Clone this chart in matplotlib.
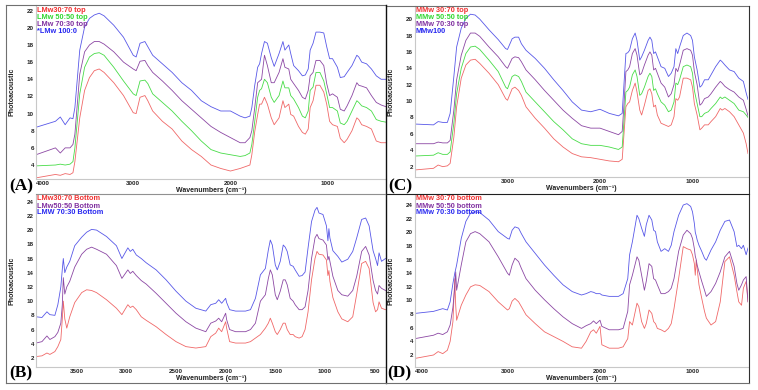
import numpy as np
import matplotlib
matplotlib.use("Agg")
import matplotlib.pyplot as plt
from matplotlib.lines import Line2D

plt.rcParams['font.family'] = ['Liberation Sans', 'DejaVu Sans']

W, H = 758, 390

# ---------------- Panel A: LMw top ----------------
wn_a = [4000, 3800, 3750, 3700, 3650, 3620, 3600, 3550, 3500, 3450,
        3400, 3350, 3300, 3200, 3100, 3000, 2970, 2930, 2880, 2850,
        2800, 2700, 2600, 2500, 2400, 2300, 2200, 2100, 2000, 1900,
        1850, 1800, 1780, 1750, 1720, 1700, 1680, 1650, 1620, 1580,
        1550, 1500, 1460, 1440, 1400, 1380, 1350, 1300, 1260, 1230,
        1200, 1180, 1150, 1120, 1080, 1040, 1010, 980, 950, 900,
        870, 830, 800, 750, 700, 680, 650, 600, 550, 500,
        450, 400]
a_30_70 = [2.5, 2.9, 2.8, 3.0, 2.9, 3.1, 4.4, 9.5, 12.7, 14.2,
           15.0, 15.2, 14.8, 13.6, 12.1, 10.1, 10.0, 11.9, 12.1, 11.5,
           10.3, 9.1, 8.2, 6.8, 5.8, 5.0, 4.0, 3.6, 3.3, 3.6,
           3.8, 4.0, 5.2, 7.9, 9.9, 11.1, 11.1, 11.9, 11.1, 9.5,
           8.7, 9.5, 11.5, 10.7, 11.1, 9.9, 9.7, 8.5, 7.8, 7.6,
           8.2, 10.7, 11.5, 13.3, 13.3, 12.5, 11.1, 9.1, 8.7, 8.5,
           7.1, 6.6, 7.0, 8.0, 9.5, 9.3, 8.7, 8.5, 8.2, 6.8,
           6.6, 6.6]
a_50_50 = [3.9, 4.0, 4.1, 4.0, 4.1, 4.4, 6.0, 12.3, 15.4, 16.6,
           17.0, 17.1, 16.8, 15.4, 13.8, 12.3, 12.1, 13.8, 13.9, 13.5,
           12.3, 11.3, 10.3, 9.1, 8.0, 6.8, 5.8, 5.4, 5.2, 5.0,
           5.1, 5.4, 6.4, 9.1, 11.9, 12.7, 12.9, 14.0, 13.6, 11.9,
           11.3, 12.1, 13.8, 13.0, 13.0, 12.1, 11.7, 10.7, 9.7, 9.5,
           10.3, 12.7, 13.1, 14.8, 14.8, 13.8, 12.3, 10.7, 10.7, 10.3,
           8.9, 8.7, 9.1, 10.3, 11.5, 11.3, 10.9, 10.7, 10.3, 9.3,
           9.1, 9.0]
a_70_30 = [5.2, 6.0, 5.4, 6.0, 6.0, 6.4, 7.6, 14.6, 17.2, 18.0,
           18.4, 18.4, 18.1, 17.2, 16.0, 15.2, 15.0, 16.1, 16.2, 15.6,
           14.8, 13.8, 12.7, 11.5, 10.5, 9.5, 8.5, 7.8, 7.2, 6.6,
           6.6, 7.2, 8.0, 10.7, 13.6, 13.8, 14.0, 16.8, 15.6, 13.6,
           13.6, 14.8, 16.4, 15.4, 15.2, 14.0, 13.5, 12.7, 11.9, 11.7,
           12.7, 14.4, 14.8, 16.2, 16.2, 15.6, 13.5, 12.1, 12.3, 11.9,
           10.5, 10.3, 10.9, 12.1, 13.6, 13.3, 13.2, 13.0, 12.1, 11.3,
           11.0, 10.8]
a_100 = [8.4, 9.1, 9.6, 8.7, 9.5, 9.4, 10.7, 17.4, 20.1, 21.1,
         21.5, 21.7, 21.4, 20.3, 18.9, 16.8, 16.6, 18.2, 18.4, 17.8,
         16.8, 15.8, 14.8, 13.6, 12.7, 11.5, 10.8, 10.3, 10.3, 9.7,
         9.5, 9.7, 10.7, 13.3, 15.4, 15.8, 17.0, 18.4, 18.2, 16.5,
         15.5, 17.0, 18.4, 17.4, 18.0, 17.0, 15.6, 15.0, 14.4, 14.5,
         15.2, 17.4, 18.2, 19.5, 19.5, 19.4, 17.8, 16.4, 16.4, 15.4,
         14.2, 14.3, 14.8, 15.6, 16.8, 16.6, 16.0, 15.8, 15.2, 14.4,
         14.0, 14.0]

# ---------------- Panel C: MMw top ----------------
wn_c = [4000, 3800, 3750, 3700, 3650, 3620, 3580, 3550, 3500, 3450,
        3400, 3350, 3300, 3200, 3100, 3020, 3000, 2950, 2920, 2880,
        2850, 2800, 2700, 2600, 2500, 2400, 2300, 2200, 2100, 2000,
        1900, 1800, 1760, 1740, 1720, 1700, 1680, 1650, 1620, 1600,
        1570, 1550, 1520, 1480, 1460, 1440, 1420, 1400, 1380, 1340,
        1300, 1260, 1230, 1200, 1180, 1160, 1140, 1100, 1060, 1020,
        1000, 980, 950, 920, 900, 870, 830, 800, 750, 700,
        680, 650, 600, 550, 500, 450, 420, 400]
c_30_70 = [1.6, 1.8, 2.2, 2.0, 2.1, 2.4, 5.6, 9.3, 12.8, 14.4,
           15.0, 15.1, 14.6, 13.4, 12.0, 10.3, 10.1, 11.5, 11.7, 11.3,
           10.7, 9.3, 7.9, 6.7, 5.4, 4.4, 3.6, 3.2, 3.1, 2.9,
           2.7, 2.6, 2.9, 6.1, 9.3, 9.7, 9.9, 11.3, 12.2, 11.1,
           8.9, 8.3, 9.5, 11.3, 11.5, 10.9, 9.3, 9.5, 8.3, 7.3,
           7.1, 6.9, 7.1, 8.1, 10.3, 10.1, 10.5, 12.8, 12.8, 12.6,
           11.7, 9.7, 8.3, 6.5, 6.7, 7.1, 7.1, 7.5, 8.1, 9.1,
           8.9, 9.1, 8.7, 8.1, 7.1, 6.1, 4.8, 3.6]
c_50_50 = [3.3, 3.4, 3.7, 3.5, 3.5, 3.8, 7.3, 10.9, 14.0, 15.8,
           16.6, 16.7, 16.3, 15.0, 13.6, 11.7, 11.5, 13.0, 13.2, 13.0,
           12.4, 11.1, 9.9, 8.7, 7.5, 6.5, 5.4, 4.8, 4.6, 4.6,
           4.4, 4.1, 4.4, 7.7, 11.1, 11.3, 11.7, 13.2, 13.8, 13.0,
           10.7, 10.9, 11.7, 13.0, 13.4, 13.0, 11.3, 11.5, 10.9, 9.9,
           9.5, 8.7, 8.9, 9.9, 12.2, 12.0, 12.6, 14.2, 14.4, 14.2,
           13.4, 11.3, 9.7, 8.1, 8.1, 8.5, 8.7, 9.1, 9.7, 10.5,
           10.3, 10.5, 10.1, 9.7, 8.9, 8.7, 8.3, 8.0]
c_70_30 = [4.8, 4.8, 5.0, 4.9, 4.9, 5.2, 8.9, 12.6, 15.6, 17.4,
           18.3, 18.3, 17.9, 16.6, 15.4, 14.2, 14.0, 15.2, 15.4, 15.3,
           14.8, 13.8, 12.6, 11.3, 10.1, 8.9, 7.9, 7.0, 6.7, 6.7,
           6.3, 5.9, 6.3, 9.7, 13.6, 13.8, 14.2, 15.8, 16.4, 15.6,
           13.2, 13.4, 14.4, 15.6, 16.0, 15.6, 13.8, 14.0, 13.4, 12.2,
           11.7, 10.5, 10.9, 12.0, 14.0, 13.6, 14.4, 16.2, 16.4, 16.2,
           15.6, 13.6, 12.0, 9.5, 9.7, 10.3, 10.5, 10.9, 11.7, 12.4,
           12.2, 11.8, 11.4, 11.1, 10.5, 10.1, 9.0, 8.2]
c_100 = [7.2, 7.1, 7.5, 7.4, 7.4, 8.5, 13.0, 16.6, 18.9, 20.1,
         20.6, 20.5, 20.0, 18.7, 17.5, 16.4, 16.3, 17.6, 17.8, 17.8,
         17.0, 16.2, 15.2, 14.0, 12.6, 11.3, 9.9, 8.9, 8.7, 9.0,
         8.5, 8.2, 8.5, 12.2, 15.8, 15.9, 16.2, 17.6, 18.3, 17.4,
         15.0, 15.4, 16.2, 17.4, 17.8, 17.4, 15.8, 16.0, 15.4, 14.2,
         14.0, 13.0, 13.4, 14.2, 16.4, 15.8, 16.6, 18.0, 18.3, 18.0,
         17.4, 15.4, 13.8, 11.7, 11.9, 12.6, 12.6, 13.2, 14.2, 15.0,
         14.8, 14.4, 13.8, 13.6, 12.8, 12.4, 11.0, 10.2]

# ---------------- Panel B: LMw bottom ----------------
wn_b = [3910, 3850, 3800, 3770, 3720, 3690, 3660, 3645, 3635, 3620,
        3600, 3570, 3520, 3450, 3400, 3350, 3300, 3200, 3100, 3045,
        2985, 2960, 2935, 2900, 2850, 2800,
        2700, 2600, 2500, 2400, 2300, 2200, 2150, 2100, 2070, 2040,
        2000, 1990, 1960, 1900, 1800, 1750, 1700, 1650, 1600, 1570,
        1550, 1530, 1500, 1480, 1450, 1420, 1400, 1380, 1350, 1320,
        1300, 1260, 1230,
        1200, 1170, 1135, 1100, 1080, 1060, 1020, 985, 970, 960,
        950, 920, 870, 830, 770, 720, 680, 630, 590, 555,
        515, 490, 470, 455, 430, 390]
b_30_70 = [2.2, 2.3, 2.7, 2.5, 2.9, 3.6, 4.6, 7.5, 10.0, 7.5,
           6.2, 7.8, 9.8, 11.2, 11.6, 11.5, 11.2, 10.2, 9.0, 8.1,
           9.5, 9.1, 9.3, 8.8, 7.8, 7.3,
           6.4, 5.3, 4.3, 3.6, 3.4, 3.6, 5.0, 5.5, 6.2, 5.7,
           7.1, 6.2, 4.3, 4.1, 4.1, 4.3, 4.8, 5.3, 6.2, 6.9,
           7.6, 6.9, 5.7, 5.3, 6.0, 6.9, 6.9, 6.0, 5.3, 5.3,
           5.0, 4.8, 5.0,
           6.0, 8.5, 13.0, 16.0, 17.0, 16.6, 16.5, 15.8, 13.6, 14.3,
           12.8, 10.5, 8.5, 7.5, 7.1, 7.8, 11.0, 15.3, 15.6, 14.6,
           9.8, 8.5, 8.8, 9.9, 9.0, 8.8]
b_50_50 = [4.1, 4.3, 5.1, 4.6, 5.0, 5.6, 6.9, 9.5, 13.3, 11.0,
           12.0, 12.8, 14.8, 16.6, 17.3, 17.6, 17.3, 16.6, 15.0, 13.2,
           14.4, 13.9, 14.2, 13.6, 12.9, 12.4,
           11.1, 9.7, 8.3, 7.1, 6.2, 5.7, 6.9, 7.2, 7.6, 7.1,
           8.3, 7.4, 6.0, 5.7, 5.7, 6.0, 6.9, 10.0, 10.9, 13.2,
           14.4, 13.7, 10.9, 10.2, 11.4, 13.0, 13.0, 12.3, 10.4, 10.0,
           9.5, 8.8, 8.8,
           9.2, 11.5, 16.0, 18.9, 19.4, 18.8, 18.6, 17.9, 15.8, 16.3,
           15.6, 13.5, 11.5, 10.9, 10.7, 11.5, 13.5, 17.0, 17.7, 16.5,
           12.9, 11.5, 11.0, 12.2, 11.8, 11.5]
b_70_30 = [7.8, 7.7, 8.5, 8.1, 8.0, 9.5, 12.0, 14.5, 16.0, 14.0,
           14.8, 15.6, 17.8, 19.0, 19.7, 20.1, 20.0, 19.1, 17.8, 16.0,
           17.5, 17.0, 17.3, 16.5, 16.0, 15.4,
           14.4, 13.0, 11.4, 10.0, 9.0, 8.6, 9.5, 9.7, 10.2, 9.7,
           10.4, 9.8, 8.8, 8.6, 8.6, 8.8, 10.4, 13.7, 14.6, 17.2,
           18.6, 17.9, 15.1, 14.4, 15.6, 17.9, 17.6, 17.0, 15.1, 14.9,
           14.4, 13.5, 13.6,
           14.1, 17.5, 21.2, 22.8, 23.2, 22.4, 22.2, 20.6, 18.5, 20.2,
           18.9, 17.1, 16.3, 15.5, 15.9, 17.0, 18.9, 21.5, 21.7, 20.6,
           17.1, 16.0, 15.0, 16.8, 15.6, 16.0]

# ---------------- Panel D: MMw bottom ----------------
wn_d = [4000, 3800, 3750, 3700, 3650, 3620, 3590, 3570, 3560, 3550,
        3500, 3450, 3400, 3350, 3300, 3200, 3100, 3000, 2980, 2950,
        2920, 2880, 2850, 2800, 2700, 2600, 2500, 2400, 2300, 2200,
        2150, 2100, 2070, 2040, 2000, 1980, 1900, 1800, 1750, 1700,
        1680, 1650, 1600, 1580, 1550, 1520, 1500, 1470, 1440, 1420,
        1400, 1380, 1340, 1300, 1260, 1230, 1200, 1150, 1100, 1060,
        1020, 1000, 980, 970, 960, 950, 930, 900, 870, 850,
        800, 750, 700, 650, 600, 550, 520, 500, 470, 450,
        420, 400]
d_30_70 = [1.5, 2.0, 2.5, 2.2, 2.7, 4.0, 6.9, 13.2, 9.3, 7.1,
           9.3, 10.8, 12.0, 12.3, 12.2, 11.3, 9.8, 8.6, 8.8, 9.9,
           10.3, 9.8, 9.1, 7.9, 6.6, 5.4, 4.7, 4.0, 3.2, 3.0,
           4.0, 5.4, 5.7, 5.2, 6.2, 3.5, 3.0, 3.0, 3.2, 4.4,
           6.9, 6.4, 9.6, 9.1, 6.9, 5.9, 6.6, 8.6, 8.1, 6.9,
           6.6, 5.9, 5.7, 5.4, 5.9, 6.6, 8.8, 13.2, 17.9, 17.6,
           17.4, 16.7, 15.4, 13.7, 15.9, 14.7, 12.3, 10.3, 8.4, 7.4,
           6.4, 6.9, 9.8, 15.7, 16.4, 13.7, 11.3, 9.8, 9.3, 11.8,
           12.8, 9.8]
d_50_50 = [4.4, 4.9, 5.2, 5.0, 5.4, 6.4, 9.0, 12.0, 14.2, 11.5,
           15.2, 18.6, 19.8, 20.1, 19.8, 18.6, 16.4, 14.0, 13.7, 15.2,
           16.2, 15.7, 14.7, 13.2, 11.5, 10.1, 8.8, 7.6, 6.6, 5.9,
           6.3, 6.6, 7.0, 6.6, 7.1, 6.2, 5.7, 5.7, 5.9, 8.4,
           12.3, 13.7, 16.4, 15.9, 13.7, 11.5, 12.8, 15.4, 15.0, 13.2,
           13.0, 12.3, 11.0, 11.0, 11.3, 11.8, 13.2, 17.2, 19.6, 20.3,
           19.8, 19.1, 17.6, 16.5, 16.0, 15.2, 14.2, 12.8, 11.5, 10.6,
           11.3, 12.5, 14.2, 16.4, 17.2, 15.0, 12.5, 11.5, 12.3, 13.0,
           13.5, 9.8]
d_70_30 = [8.1, 8.4, 8.6, 8.8, 8.6, 9.8, 12.5, 14.0, 14.6, 15.2,
           19.1, 21.6, 22.8, 23.0, 22.9, 21.8, 20.1, 19.1, 19.0, 20.3,
           20.8, 20.6, 19.8, 18.6, 16.9, 15.2, 13.7, 12.3, 11.3, 10.8,
           11.0, 11.3, 11.2, 11.0, 11.0, 10.8, 10.6, 10.6, 11.0, 13.2,
           16.7, 18.6, 22.5, 22.0, 20.6, 19.4, 21.1, 22.5, 21.8, 20.3,
           20.1, 18.6, 17.2, 17.6, 17.2, 18.1, 20.1, 22.5, 24.0, 24.2,
           23.8, 23.0, 21.3, 20.0, 19.5, 18.9, 18.1, 17.2, 16.2, 15.9,
           17.4, 18.6, 20.3, 21.6, 21.8, 20.1, 17.9, 18.1, 17.6, 18.1,
           16.7, 17.7]

RED = '#f06868'
GREEN = '#48dc48'
PURPLE = '#8c48a4'
BLUE = '#5858e8'
TXT_RED = '#f03030'
TXT_GREEN = '#30d830'
TXT_PURPLE = '#8030a0'
TXT_BLUE = '#2828f0'

fig = plt.figure(figsize=(W / 100, H / 100), dpi=100)


def fx(x):
    return x / W


def fy(y):
    return 1 - y / H


def panel(l, t, r, b, xlim, ylim, xticks, yticks):
    ax = fig.add_axes([fx(l), fy(b), (r - l) / W, (b - t) / H])
    ax.set_xlim(*xlim)
    ax.set_ylim(*ylim)
    ax.set_xticks(xticks, labels=[str(v) for v in xticks])
    ax.set_yticks(yticks)
    ax.tick_params(length=0, labelsize=4.5, colors='#222222', pad=1.5)
    for lab in ax.get_xticklabels() + ax.get_yticklabels():
        lab.set_fontweight('bold')
    for s in ['top', 'right']:
        ax.spines[s].set_visible(False)
    for s in ['left', 'bottom']:
        ax.spines[s].set_color('#c8c8c8')
        ax.spines[s].set_linewidth(0.8)
    ax.set_facecolor('white')
    # axis titles
    ax.text(0.5, -(12.0 / (b - t)), 'Wavenumbers (cm\u207b\u00b9)', transform=ax.transAxes,
            ha='center', va='center', fontsize=5, fontweight='bold', color='#222222')
    ax.text(-24.0 / (r - l), 0.5, 'Photoacoustic', transform=ax.transAxes,
            ha='center', va='center', rotation=90, fontsize=5, fontweight='bold', color='#222222')
    return ax


def legend_text(x, y, labels, colors):
    for i, (lab, c) in enumerate(zip(labels, colors)):
        fig.text(fx(x), fy(y + i * 7), lab, ha='left', va='center',
                 fontsize=5.3, fontweight='bold', color=c)


lw = 0.6

# A
axA = panel(36, 5, 386, 179, (4000, 400), (2.37, 22.66), [4000, 3000, 2000, 1000], range(4, 23, 2))
axA.plot(wn_a, a_30_70, color=RED, lw=lw)
axA.plot(wn_a, a_50_50, color=GREEN, lw=lw)
axA.plot(wn_a, a_70_30, color=PURPLE, lw=lw)
axA.plot(wn_a, a_100, color=BLUE, lw=lw)
legend_text(37, 10.5, ['LMw30:70 top', 'LMw 50:50 top', 'LMw 70:30 top', '*LMw 100:0'],
            [TXT_RED, TXT_GREEN, TXT_PURPLE, TXT_BLUE])

# C
axC = panel(415, 6, 748, 177, (4000, 400), (0.74, 21.6), [3000, 2000, 1000], range(2, 21, 2))
axC.plot(wn_c, c_30_70, color=RED, lw=lw)
axC.plot(wn_c, c_50_50, color=GREEN, lw=lw)
axC.plot(wn_c, c_70_30, color=PURPLE, lw=lw)
axC.plot(wn_c, c_100, color=BLUE, lw=lw)
legend_text(416, 10.7, ['MMw 30:70 top', 'MMw 50:50 top', 'MMw 70:30 top', 'MMw100'],
            [TXT_RED, TXT_GREEN, TXT_PURPLE, TXT_BLUE])

# B
axB = panel(36, 195, 386, 367, (3910, 385), (0.73, 24.94),
            [3500, 3000, 2500, 2000, 1500, 1000, 500], range(2, 25, 2))
axB.plot(wn_b, b_30_70, color=RED, lw=lw)
axB.plot(wn_b, b_50_50, color=PURPLE, lw=lw)
axB.plot(wn_b, b_70_30, color=BLUE, lw=lw)
legend_text(37, 199, ['LMw30:70 Bottom', 'LMw50:50 Bottom', 'LMW 70:30 Bottom'],
            [TXT_RED, TXT_PURPLE, TXT_BLUE])

# D
axD = panel(415, 195, 748, 367, (4000, 400), (0.24, 25.47), [4000, 3000, 2000, 1000], range(2, 25, 2))
axD.plot(wn_d, d_30_70, color=RED, lw=lw)
axD.plot(wn_d, d_50_50, color=PURPLE, lw=lw)
axD.plot(wn_d, d_70_30, color=BLUE, lw=lw)
legend_text(416, 199, ['MMw 30:70 bottom', 'MMw 50:50 bottom', 'MMw 70:30 bottom'],
            [TXT_RED, TXT_PURPLE, TXT_BLUE])

# the 4000 label sits just right of the panel letter
for ax in (axA, axD):
    ax.xaxis.get_major_ticks()[0].label1.set_horizontalalignment('left')


# frame lines around the panels
def hline(y, x0, x1, color, w=0.8):
    fig.add_artist(Line2D([fx(x0), fx(x1)], [fy(y), fy(y)], color=color, lw=w, zorder=5))


def vline(x, y0, y1, color, w=0.8):
    fig.add_artist(Line2D([fx(x), fx(x)], [fy(y0), fy(y1)], color=color, lw=w, zorder=5))


hline(5, 6, 386, '#707070')
hline(6, 386, 749, '#707070')
vline(6, 5, 383, '#707070')
vline(749, 6, 383, '#303030')
vline(386, 5, 383, '#101010', 1.0)
hline(194, 36, 386, '#909090')
hline(194, 386, 749, '#202020')
hline(383, 6, 749, '#707070')

# panel letters
for lab, x, y in [('(A)', 21, 186), ('(C)', 400, 186), ('(B)', 21, 373), ('(D)', 399, 373)]:
    fig.text(fx(x), fy(y), lab, ha='center', va='center', fontsize=12.5, fontweight='bold',
             family='Liberation Serif', color='black', zorder=6)

fig.savefig('out.png', dpi=100, facecolor='white')
